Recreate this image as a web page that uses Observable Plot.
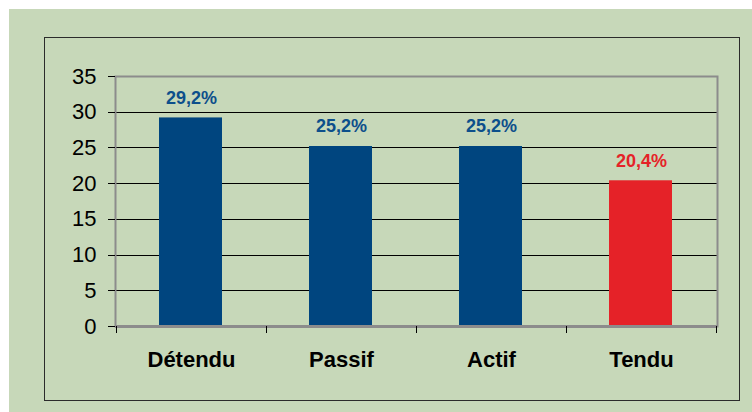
<!DOCTYPE html>
<html>
<head>
<meta charset="utf-8">
<script src="https://cdn.jsdelivr.net/npm/d3@7"></script>
<script src="https://cdn.jsdelivr.net/npm/@observablehq/plot@0.6"></script>
<style>
  html, body { margin: 0; padding: 0; background: #ffffff; }
  #wrap { position: relative; width: 752px; height: 412px; overflow: hidden; }
  #bg { position: absolute; left: 9px; top: 9px; right: 0; bottom: 0; background: #c7d8b9; }
  #box { position: absolute; left: 44px; top: 37px; width: 694px; height: 362px; border: 1.5px solid #2b2b2b; }
  #chart { position: absolute; left: 0; top: 0; }
  #chart svg { background: transparent; }
</style>
</head>
<body>
<div id="wrap">
  <div id="bg"></div>
  <div id="box"></div>
  <div id="chart"></div>
</div>
<script>
const categories = ["Détendu", "Passif", "Actif", "Tendu"];
const values = [29.2, 25.2, 25.2, 20.4];
const valueLabels = ["29,2%", "25,2%", "25,2%", "20,4%"];
const barColors = ["#00457f", "#00457f", "#00457f", "#e52228"];
const labelColors = ["#0d4f8b", "#0d4f8b", "#0d4f8b", "#e52228"];
const yTicks = [0, 5, 10, 15, 20, 25, 30, 35];
const gridTicks = [5, 10, 15, 20, 25, 30];

const data = categories.map((c, i) => ({
  cat: c, value: values[i], label: valueLabels[i], bar: barColors[i], lab: labelColors[i]
}));

const bandTicks = (index, scales, values, dimensions) => {
  const g = d3.create("svg:g");
  const x = scales.x;
  const y0 = scales.y(0);
  const bw = x.bandwidth ? x.bandwidth() : (dimensions.width - dimensions.marginLeft - dimensions.marginRight) / categories.length;
  const xs = categories.map(c => x(c)).concat([x(categories[categories.length - 1]) + bw]);
  xs.forEach(px => {
    g.append("line")
      .attr("x1", Math.round(px) + 0.5).attr("x2", Math.round(px) + 0.5)
      .attr("y1", y0).attr("y2", y0 + 7)
      .attr("stroke", "#000").attr("stroke-width", 1);
  });
  return g.node();
};

const chart = Plot.plot({
  width: 752,
  height: 412,
  marginLeft: 115,
  marginRight: 35,
  marginTop: 76,
  marginBottom: 86,
  style: { fontFamily: "Arial, 'Liberation Sans', sans-serif", background: "transparent", color: "#000" },
  x: { domain: categories, padding: 0, label: null },
  y: { domain: [0, 35], label: null },
  marks: [
    Plot.ruleY(gridTicks, { stroke: "#000", strokeWidth: 1, shapeRendering: "crispEdges" }),
    Plot.barY(data, {
      x: "cat", y: "value", fill: "bar",
      insetLeft: 43, insetRight: 44
    }),
    Plot.frame({ stroke: "#8c8c8c", strokeWidth: 2 }),
    Plot.ruleY([0], { stroke: "#8c8c8c", strokeWidth: 3 }),
    bandTicks,
    Plot.axisY({
      ticks: yTicks, tickSize: 7, tickPadding: 12, fontSize: 22,
      tickFormat: d => String(d), stroke: "#000", label: null, shapeRendering: "crispEdges"
    }),
    Plot.axisX({
      tickSize: 0, tickPadding: 25, fontSize: 22, fontWeight: "bold", label: null
    }),
    Plot.text(data, {
      x: "cat", y: "value", text: "label", fill: "lab",
      dy: -20, fontSize: 18, fontWeight: "bold"
    })
  ]
});

document.getElementById("chart").appendChild(chart);
</script>
</body>
</html>
